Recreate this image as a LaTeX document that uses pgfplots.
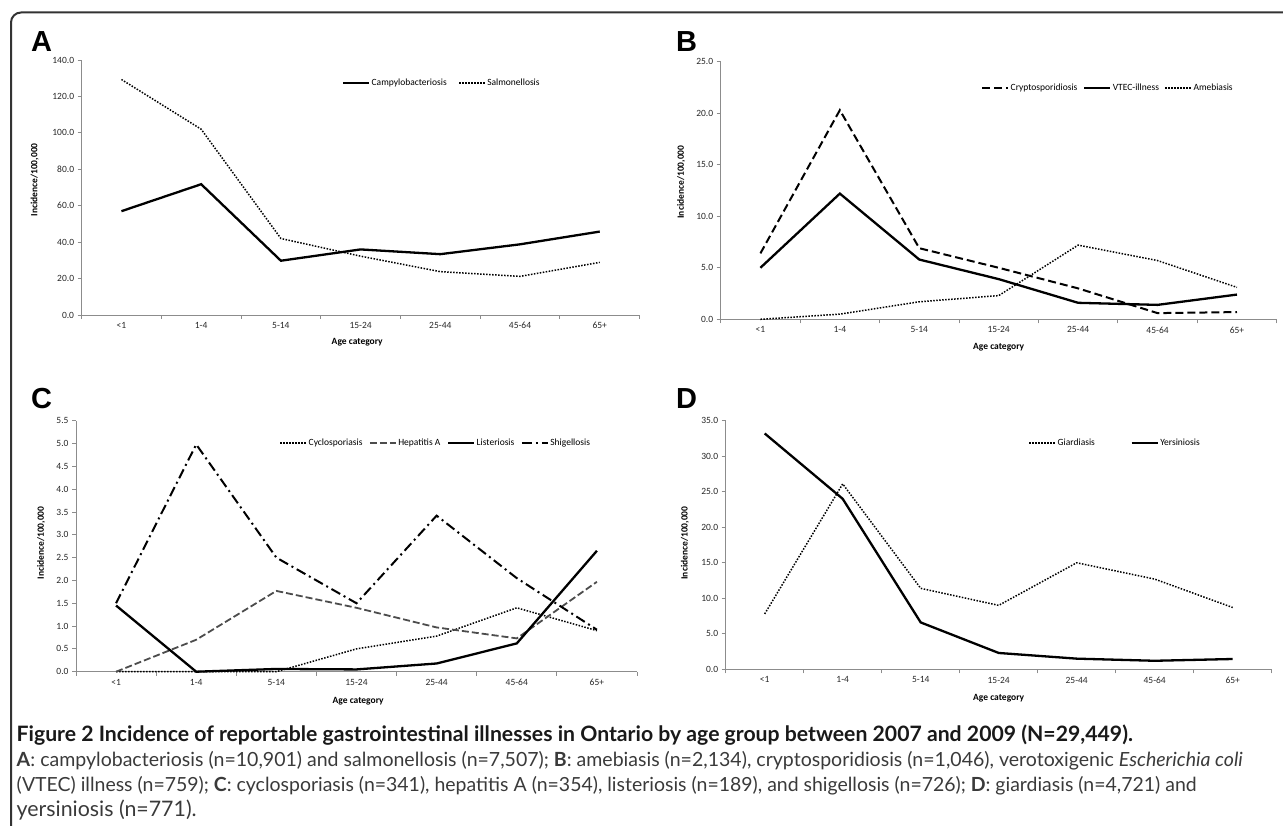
\documentclass[border=0pt]{standalone}
\usepackage{fontspec}
\setmainfont{Carlito}
\newfontfamily\capfont{Lato}
\newfontfamily\letterfont{Liberation Sans}
\usepackage{graphicx}
\usepackage{pgfplots}
\pgfplotsset{compat=1.18}

\definecolor{axisgray}{HTML}{8C8C8C}
\definecolor{framegray}{HTML}{333333}
\definecolor{captext}{HTML}{3A3A3A}

\pgfplotsset{
  panel/.style={
    scale only axis,
    axis x line=bottom, axis y line=left,
    axis line style={-, draw=axisgray, line width=0.8pt},
    clip=false,
    xmin=-0.5, xmax=6.5, ymin=0,
    xtick={0,...,6},
    xticklabels={<1,1-4,5-14,15-24,25-44,45-64,65+},
    minor xtick={-0.5,0.5,...,6.5},
    major x tick style={draw=none},
    minor x tick style={draw=axisgray, line width=0.8pt},
    y tick style={draw=axisgray, line width=0.8pt},
    tick align=outside,
    major tick length=4pt, minor tick length=4pt,
    ticklabel style={font=\fontsize{9.5}{11}\selectfont, text=black!85},
    yticklabel style={/pgf/number format/.cd, fixed, fixed zerofill, precision=1, assume math mode=true},
    xlabel={Age category}, ylabel={Incidence/100,000},
    label style={font=\bfseries\fontsize{9.5}{11}\selectfont},
    xlabel style={anchor=center},
    ylabel style={anchor=center},
    legend style={draw=none, fill=none, inner sep=0pt, anchor=center,
      font=\fontsize{9.5}{11}\selectfont, legend columns=-1,
      nodes={inner sep=1.5pt}},
    legend image code/.code={\draw[#1] (0pt,0pt) -- (26pt,0pt);},
  },
  solidl/.style={black, line width=2.3pt},
  dotl/.style={black, line width=1.5pt, dash pattern=on 1.5pt off 1.5pt},
  dashl/.style={black, line width=2pt, dash pattern=on 8pt off 4pt},
  hepl/.style={black!70, line width=1.8pt, dash pattern=on 7pt off 3pt},
  dashdotl/.style={black, line width=2pt, dash pattern=on 10pt off 4pt on 2pt off 4pt},
}

\begin{document}
\begin{tikzpicture}
\path[use as bounding box] (0pt,0pt) rectangle (1283pt,-826pt);
\draw[framegray, line width=2pt, rounded corners=10pt] (11pt,-840pt) -- (11pt,-12.5pt) -- (1300pt,-12.5pt);

% panel letters
\tikzset{letter/.style={anchor=base west, inner sep=0pt, font=\letterfont\bfseries\fontsize{29}{31}\selectfont}}
\node[letter] at (31pt,-52pt) {A};
\node[letter] at (676pt,-52pt) {B};
\node[letter] at (31pt,-409pt) {C};
\node[letter] at (676pt,-408pt) {D};

% A
\begin{axis}[panel, at={(81.6pt,-315pt)}, width=558pt, height=255pt,
  ymax=140, ytick={0,20,...,140},
  xlabel style={at={(axis description cs:0.494,-0.106)}},
  ylabel style={at={(axis description cs:-0.084,0.53)}},
  legend style={at={(axis description cs:0.645,0.91)},
    /tikz/every even column/.append style={column sep=10pt}}]
\addplot[solidl] coordinates {(0,57.0) (1,71.8) (2,29.8) (3,36.0) (4,33.4) (5,38.8) (6,45.8)};
\addplot[dotl] coordinates {(0,129.3) (1,102.0) (2,42.0) (3,32.3) (4,23.8) (5,21.2) (6,28.9)};
\legend{Campylobacteriosis, Salmonellosis}
\end{axis}

% B
\begin{axis}[panel, at={(720.7pt,-319.3pt)}, width=556pt, height=257.6pt,
  ymax=25, ytick={0,5,...,25},
  xlabel style={at={(axis description cs:0.5,-0.108)}},
  ylabel style={at={(axis description cs:-0.071,0.533)}},
  legend style={at={(axis description cs:0.696,0.898)},
    /tikz/every even column/.append style={column sep=4pt}}]
\addplot[dashl] coordinates {(0,6.4) (1,20.3) (2,6.9) (3,5.0) (4,3.0) (5,0.6) (6,0.7)};
\addplot[solidl] coordinates {(0,5.0) (1,12.2) (2,5.8) (3,3.9) (4,1.6) (5,1.4) (6,2.4)};
\addplot[dotl] coordinates {(0,0.0) (1,0.5) (2,1.7) (3,2.3) (4,7.2) (5,5.7) (6,3.1)};
\legend{Cryptosporidiosis, VTEC-illness, Amebiasis}
\end{axis}

% C
\begin{axis}[panel, at={(76pt,-671.7pt)}, width=561pt, height=251pt,
  ymax=5.5, ytick={0,0.5,...,5.5},
  xlabel style={at={(axis description cs:0.503,-0.117)}},
  ylabel style={at={(axis description cs:-0.062,0.513)}},
  legend style={at={(axis description cs:0.641,0.911)},
    /tikz/every even column/.append style={column sep=5pt}}]
\addplot[dotl] coordinates {(0,0.0) (1,0.0) (2,0.0) (3,0.5) (4,0.78) (5,1.4) (6,0.9)};
\addplot[hepl] coordinates {(0,0.0) (1,0.7) (2,1.77) (3,1.4) (4,0.97) (5,0.73) (6,1.97)};
\addplot[solidl] coordinates {(0,1.45) (1,0.0) (2,0.06) (3,0.05) (4,0.18) (5,0.62) (6,2.65)};
\addplot[dashdotl] coordinates {(0,1.5) (1,4.98) (2,2.5) (3,1.5) (4,3.42) (5,2.05) (6,0.92)};
\legend{Cyclosporiasis, Hepatitis A, Listeriosis, Shigellosis}
\end{axis}

% D
\begin{axis}[panel, at={(725.7pt,-669.3pt)}, width=546pt, height=248.6pt,
  ymax=35, ytick={0,5,...,35},
  xlabel style={at={(axis description cs:0.5,-0.115)}},
  ylabel style={at={(axis description cs:-0.0745,0.508)}},
  legend style={at={(axis description cs:0.713,0.91)},
    /tikz/every even column/.append style={column sep=34pt}}]
\addplot[dotl] coordinates {(0,7.8) (1,26.1) (2,11.4) (3,9.0) (4,15.0) (5,12.7) (6,8.7)};
\addplot[solidl] coordinates {(0,33.2) (1,24.0) (2,6.6) (3,2.3) (4,1.5) (5,1.2) (6,1.45)};
\legend{Giardiasis, Yersiniosis}
\end{axis}

% caption, each line fitted to its width in the reference
\begin{scope}[every node/.style={anchor=base west, inner sep=0pt, text=captext, font=\capfont\fontsize{16}{18}\selectfont}]
\node[text=black!90] at (16.5pt,-741pt)
  {\resizebox{1116pt}{!}{\bfseries Figure 2 Incidence of reportable gastrointestinal illnesses in Ontario by age group between 2007 and 2009 (N=29,449).}};
\node at (16.5pt,-766pt)
  {\resizebox{1226pt}{!}{\textbf{A}: campylobacteriosis (n=10,901) and salmonellosis (n=7,507); \textbf{B}: amebiasis (n=2,134), cryptosporidiosis (n=1,046), verotoxigenic \textit{Escherichia coli}}};
\node at (16.5pt,-791pt)
  {\resizebox{1180pt}{!}{(VTEC) illness (n=759); \textbf{C}: cyclosporiasis (n=341), hepatitis A (n=354), listeriosis (n=189), and shigellosis (n=726); \textbf{D}: giardiasis (n=4,721) and}};
\node at (16.5pt,-816pt) {\resizebox{180pt}{!}{yersiniosis (n=771).}};
\end{scope}
\end{tikzpicture}
\end{document}
